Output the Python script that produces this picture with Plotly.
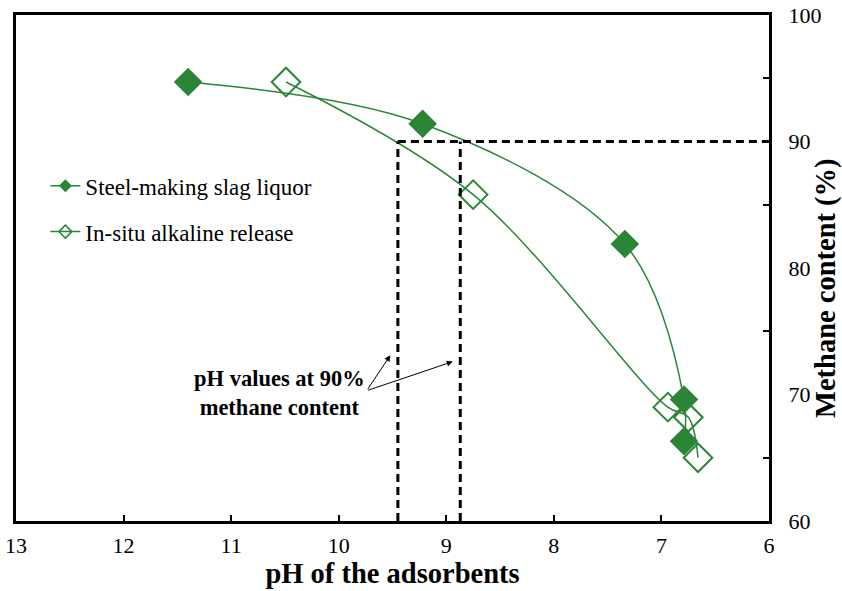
import plotly.graph_objects as go

# pH of the adsorbent vs. methane content of the upgraded biogas
slag_ph = [11.40, 9.22, 7.34, 6.79, 6.79]
slag_ch4 = [94.7, 91.4, 81.9, 69.6, 66.3]

insitu_ph = [10.49, 8.75, 6.94, 6.75, 6.66]
insitu_ch4 = [94.7, 85.8, 69.0, 68.2, 65.0]

# pH at which each series reaches 90 % methane
target_ch4 = 90
ph_at_target = [9.45, 8.87]

GREEN = "#2b8537"
FONT = "Liberation Serif"

L, R, T, B = 16, 73, 15, 70
W, H = 842, 591
plot_w, plot_h = W - L - R, H - T - B

fig = go.Figure()

# data curves (smoothed)
fig.add_trace(go.Scatter(
    x=slag_ph, y=slag_ch4, mode="lines+markers", line_shape="spline",
    line=dict(color=GREEN, width=1.5),
    marker=dict(symbol="diamond", size=22, color=GREEN),
    showlegend=False))
fig.add_trace(go.Scatter(
    x=insitu_ph, y=insitu_ch4, mode="lines+markers", line_shape="spline",
    line=dict(color=GREEN, width=1.5),
    marker=dict(symbol="diamond-open", size=22, color=GREEN, line=dict(width=2)),
    showlegend=False))

# legend entries with small markers
fig.add_trace(go.Scatter(
    x=[None], y=[None], mode="lines+markers", name="Steel-making slag liquor",
    line=dict(color=GREEN, width=1.5), legendgroup="a",
    marker=dict(symbol="diamond", size=10, color=GREEN)))
fig.add_trace(go.Scatter(
    x=[None], y=[None], mode="lines+markers", name="In-situ alkaline release",
    line=dict(color=GREEN, width=1.5), legendgroup="b",
    marker=dict(symbol="diamond-open", size=10, color=GREEN, line=dict(width=1.5))))

# dashed guide lines at 90 % methane
dash = dict(color="black", width=3, dash="8px,5px")
for ph in ph_at_target:
    fig.add_shape(type="line", x0=ph, x1=ph, y0=60, y1=target_ch4,
                  xref="x", yref="y", line=dash)
fig.add_shape(type="line", x0=ph_at_target[0], x1=6, y0=target_ch4, y1=target_ch4,
              xref="x", yref="y", line=dash)

# callout
fig.add_annotation(x=10.55, y=70.1, xref="x", yref="y",
                   text="<b>pH values at 90%<br>methane content</b>",
                   showarrow=False, font=dict(family=FONT, size=22.5, color="black"),
                   align="center")
for tip_x, tip_y in [(9.52, 73.1), (8.94, 72.6)]:
    fig.add_annotation(x=tip_x, y=tip_y, ax=9.74, ay=70.3, xref="x", yref="y",
                       axref="x", ayref="y", text="", showarrow=True,
                       arrowhead=2, arrowsize=1.2, arrowwidth=1, arrowcolor="black")

# right-hand axis title
fig.add_annotation(x=(826 - L) / plot_w, y=(H - B - 288) / plot_h,
                   xref="x domain", yref="y domain", xanchor="center", yanchor="middle",
                   text="<b>Methane content (%)</b>", textangle=-90, showarrow=False,
                   font=dict(family=FONT, size=28.5, color="black"))

fig.update_layout(
    width=W, height=H,
    margin=dict(l=L, r=R, t=T, b=B, autoexpand=False),
    paper_bgcolor="white", plot_bgcolor="white",
    font=dict(family=FONT, size=22, color="black"),
    legend=dict(x=0.039, y=0.705, xanchor="left", yanchor="top",
                bgcolor="rgba(0,0,0,0)", font=dict(family=FONT, size=23),
                traceorder="grouped", tracegroupgap=13, itemwidth=30),
    xaxis=dict(range=[13, 6], autorange=False, tickvals=[13, 12, 11, 10, 9, 8, 7, 6],
               ticks="inside", ticklen=6, tickwidth=2, tickcolor="black",
               showline=True, linecolor="black", linewidth=3, mirror=True,
               showgrid=False, zeroline=False, ticklabelstandoff=3, automargin=False,
               title=dict(text="<b>pH of the adsorbents</b>",
                          font=dict(family=FONT, size=28.5), standoff=2)),
    yaxis=dict(range=[60, 100], side="right", tickvals=[60, 70, 80, 90, 100],
               ticks="", showline=True, linecolor="black", linewidth=3, mirror=True,
               showgrid=False, zeroline=False, ticklabelstandoff=12, automargin=False,
               minor=dict(tickvals=[65, 75, 85, 95], ticks="inside", ticklen=6,
                          tickwidth=2, tickcolor="black")),
)

fig.write_html("out.html")
